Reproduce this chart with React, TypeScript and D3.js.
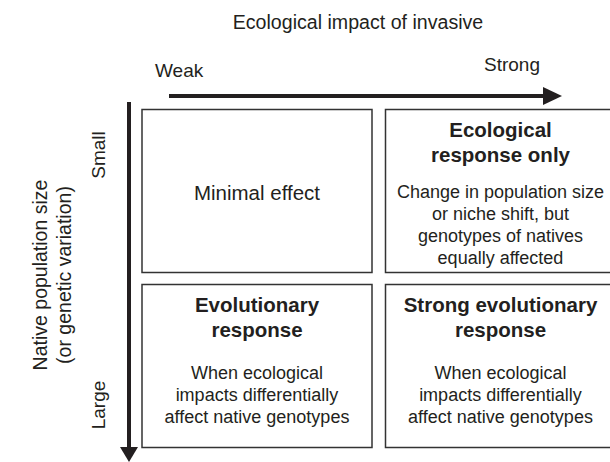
import React from 'react';
import * as d3 from 'd3';

// 2x2 conceptual grid: invasive impact (columns) vs native population size (rows).

const W = 610;
const H = 462;
const FONT = "'Liberation Sans', Arial, Helvetica, sans-serif";
const INK = '#231f20';

const xTitle = 'Ecological impact of invasive';
const yTitle = ['Native population size', '(or genetic variation)'];
const columns = ['Weak', 'Strong'];
const rows = ['Small', 'Large'];

// cell headings (bold) and body lines, row-major
const cellHeads = [
  [[], ['Ecological', 'response only']],
  [['Evolutionary', 'response'], ['Strong evolutionary', 'response']],
];
const cellBodies = [
  [['Minimal effect'], ['Change in population size', 'or niche shift, but', 'genotypes of natives', 'equally affected']],
  [
    ['When ecological', 'impacts differentially', 'affect native genotypes'],
    ['When ecological', 'impacts differentially', 'affect native genotypes'],
  ],
];

// cells 230 wide with a 13.5 gap; the right column runs past the page edge
const x = d3.scaleBand<string>().domain(columns).range([142, 615.5]).paddingInner(13.5 / 243.5);
const y = d3.scaleBand<string>().domain(rows).range([109.5, 447.5]).paddingInner(12 / 175);

const HEAD_SIZE = 20.5;
const BODY_SIZE = 18;

export default function App() {
  const arrowY = 96;
  const arrowX = 129;
  return (
    <svg width={W} height={H} style={{ position: 'absolute', left: 0, top: 0 }} fontFamily={FONT}>
      <rect width={W} height={H} fill="white" />

      <text x={358} y={29} textAnchor="middle" fontSize={19.6} fill={INK}>
        {xTitle}
      </text>
      <text x={155} y={77} fontSize={19} fill={INK}>
        {columns[0]}
      </text>
      <text x={540} y={71} textAnchor="end" fontSize={19} fill={INK}>
        {columns[1]}
      </text>

      {/* horizontal arrow */}
      <line x1={169} x2={545} y1={arrowY} y2={arrowY} stroke={INK} strokeWidth={4} />
      <path d={`M543,${arrowY - 9}L562,${arrowY}L543,${arrowY + 9}Z`} fill={INK} />

      {/* vertical arrow */}
      <line x1={arrowX} x2={arrowX} y1={102} y2={450} stroke={INK} strokeWidth={4} />
      <path d={`M${arrowX - 9},447L${arrowX},462L${arrowX + 9},447Z`} fill={INK} />

      {yTitle.map((t, i) => (
        <text
          key={t}
          transform={`translate(${47 + i * 24},275) rotate(-90)`}
          textAnchor="middle"
          fontSize={19.5}
          fill={INK}
        >
          {t}
        </text>
      ))}
      {rows.map((r) => (
        <text
          key={r}
          transform={`translate(105,${r === 'Small' ? 155 : 405}) rotate(-90)`}
          textAnchor="middle"
          fontSize={19}
          fill={INK}
        >
          {r}
        </text>
      ))}

      {rows.map((r, ri) =>
        columns.map((c, ci) => {
          const x0 = x(c)!;
          const y0 = y(r)!;
          const cx = x0 + x.bandwidth() / 2;
          const heads = cellHeads[ri][ci];
          const body = cellBodies[ri][ci];
          const single = heads.length === 0;
          const headTop = y0 + 27;
          const bodyTop = single ? y0 + 90 : y0 + (ri === 0 ? 88 : 94);
          return (
            <g key={`${r}-${c}`}>
              <rect
                x={x0}
                y={y0}
                width={x.bandwidth()}
                height={y.bandwidth()}
                fill="none"
                stroke="#333"
                strokeWidth={1.5}
              />
              {heads.map((h, i) => (
                <text
                  key={h}
                  x={cx}
                  y={headTop + i * 25}
                  textAnchor="middle"
                  fontSize={HEAD_SIZE}
                  fontWeight="bold"
                  fill={INK}
                >
                  {h}
                </text>
              ))}
              {body.map((b, i) => (
                <text
                  key={b}
                  x={cx}
                  y={bodyTop + i * 22}
                  textAnchor="middle"
                  fontSize={single ? 20.5 : BODY_SIZE}
                  fill={INK}
                >
                  {b}
                </text>
              ))}
            </g>
          );
        })
      )}
    </svg>
  );
}
